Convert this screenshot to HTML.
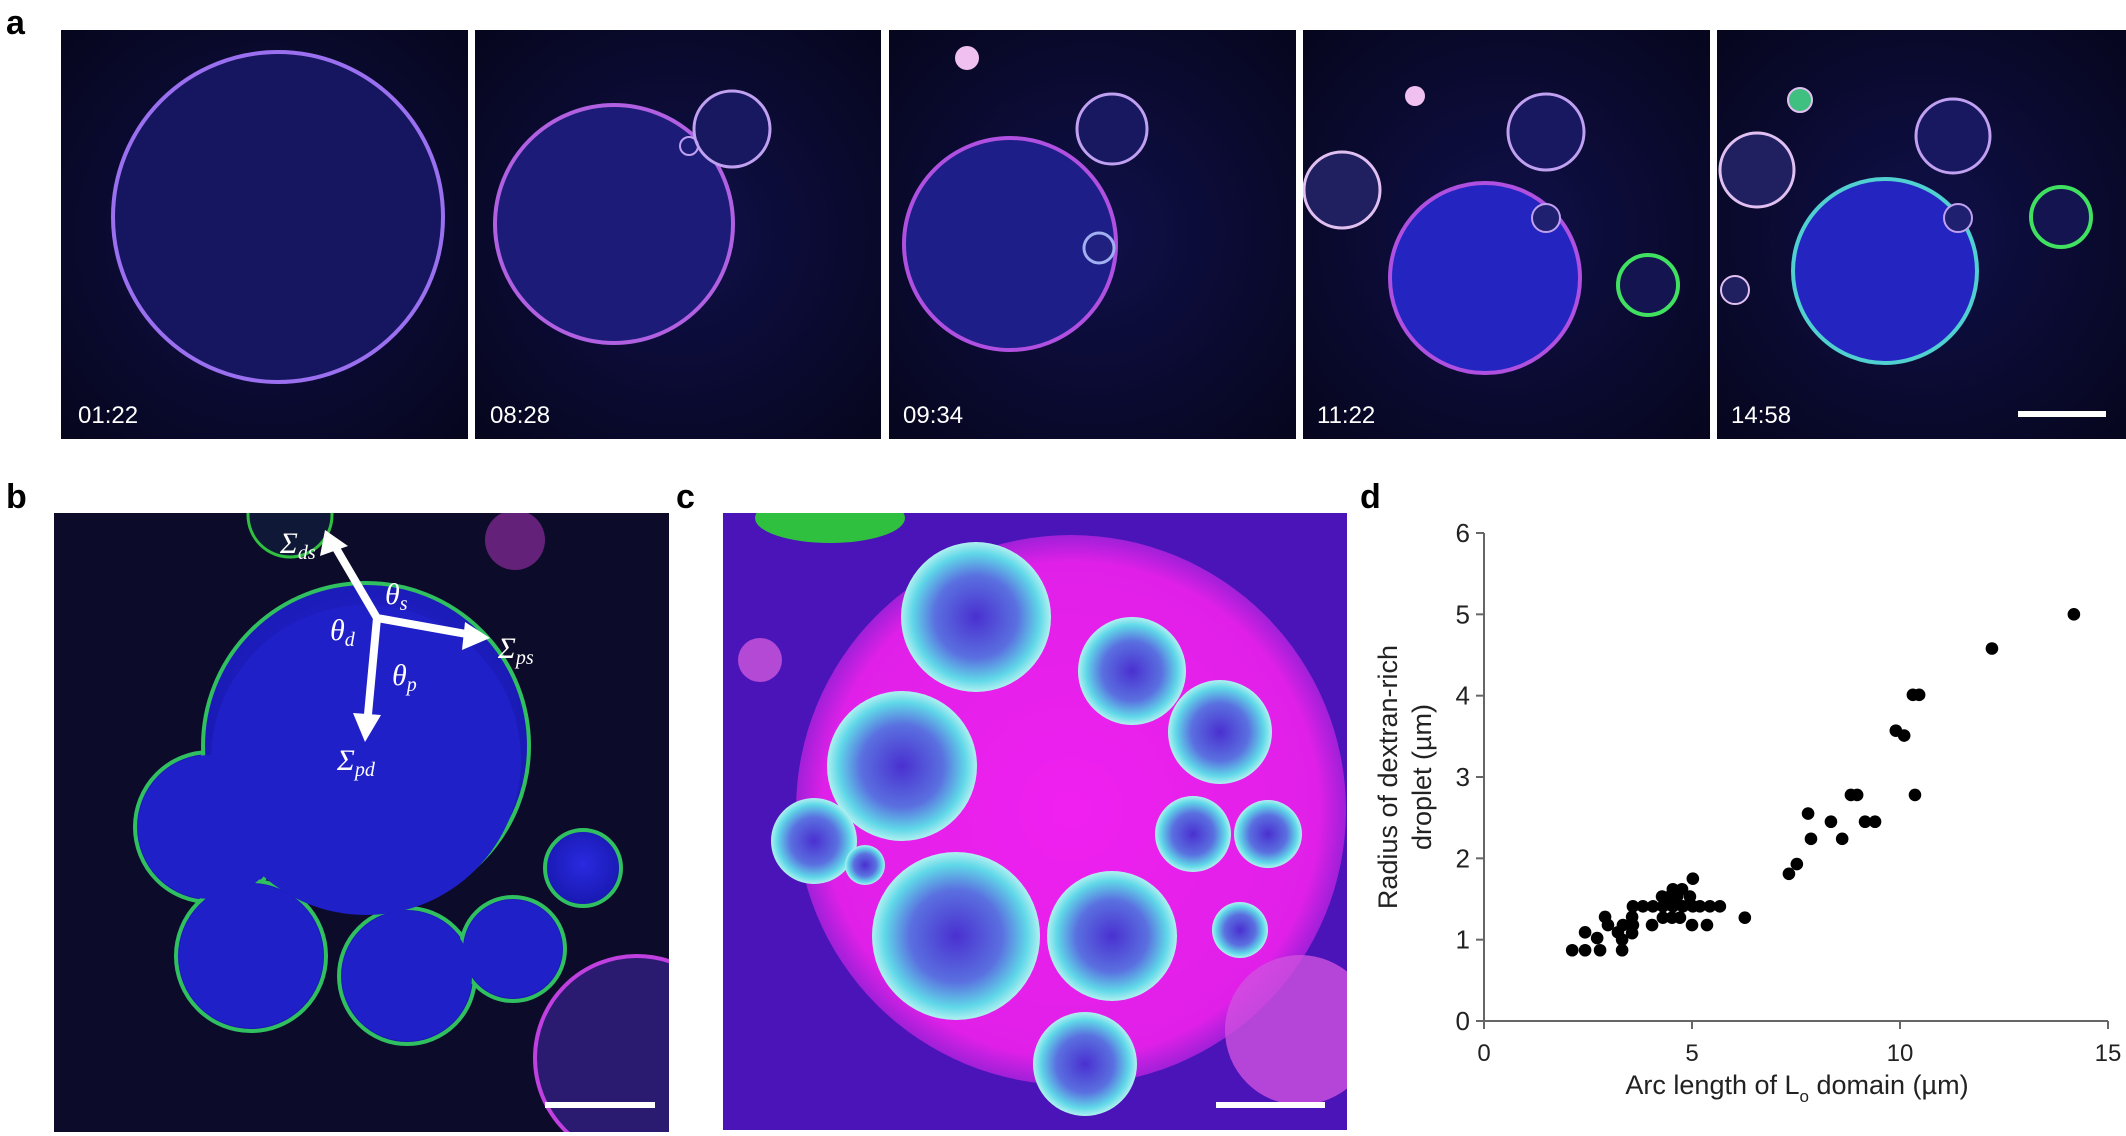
<!DOCTYPE html>
<html><head><meta charset="utf-8"><style>
html,body{margin:0;padding:0;background:#fff;}
body{width:2126px;height:1136px;position:relative;overflow:hidden;font-family:"Liberation Sans",sans-serif;}
.lbl{position:absolute;font-weight:bold;font-size:34px;color:#000;}
svg{position:absolute;left:0;top:0;}
</style></head><body>
<div class="lbl" style="left:6px;top:4px">a</div>
<div class="lbl" style="left:6px;top:478px">b</div>
<div class="lbl" style="left:676px;top:478px">c</div>
<div class="lbl" style="left:1360px;top:478px">d</div>
<svg width="2126" height="1136">
<defs>
<radialGradient id="bgA" cx="50%" cy="50%" r="70%"><stop offset="0" stop-color="#10104a"/><stop offset="1" stop-color="#06061e"/></radialGradient>
<radialGradient id="blueFill" cx="50%" cy="45%" r="55%"><stop offset="0" stop-color="#2a2ae0"/><stop offset="1" stop-color="#1818b0"/></radialGradient>
<radialGradient id="cyanSph" cx="50%" cy="50%" r="50%"><stop offset="0" stop-color="#4a30d0"/><stop offset="0.55" stop-color="#5a70e0"/><stop offset="0.85" stop-color="#60d8e8"/><stop offset="1" stop-color="#b0f0f0"/></radialGradient>
<radialGradient id="magBig" cx="50%" cy="50%" r="50%"><stop offset="0" stop-color="#f020f0"/><stop offset="0.9" stop-color="#e020e8"/><stop offset="1" stop-color="#a020d8"/></radialGradient>
<clipPath id="cA1"><rect x="61" y="30" width="407" height="409"/></clipPath>
<clipPath id="cA2"><rect x="475" y="30" width="406" height="409"/></clipPath>
<clipPath id="cA3"><rect x="889" y="30" width="407" height="409"/></clipPath>
<clipPath id="cA4"><rect x="1303" y="30" width="407" height="409"/></clipPath>
<clipPath id="cA5"><rect x="1717" y="30" width="409" height="409"/></clipPath>
<clipPath id="cB"><rect x="54" y="513" width="615" height="619"/></clipPath>
<clipPath id="cC"><rect x="723" y="513" width="624" height="617"/></clipPath>
</defs>
<g clip-path="url(#cA1)">
<rect x="61" y="30" width="407" height="409" fill="url(#bgA)"/>
<circle cx="278" cy="217" r="165" fill="#161660" stroke="#9a70f0" stroke-width="4"/>
</g>
<g clip-path="url(#cA2)">
<rect x="475" y="30" width="406" height="409" fill="url(#bgA)"/>
<circle cx="614" cy="224" r="119" fill="#1c1c78" stroke="#b060e0" stroke-width="4"/>
<circle cx="732" cy="129" r="38" fill="#181860" stroke="#c0a0f0" stroke-width="3"/>
<circle cx="689" cy="146" r="9" fill="none" stroke="#c0a0f0" stroke-width="2"/>
</g>
<g clip-path="url(#cA3)">
<rect x="889" y="30" width="407" height="409" fill="url(#bgA)"/>
<circle cx="1010" cy="244" r="106" fill="#1e1e88" stroke="#b050e0" stroke-width="4"/>
<circle cx="1112" cy="129" r="35" fill="#181860" stroke="#c0a0f0" stroke-width="3"/>
<circle cx="1099" cy="248" r="15" fill="#202080" stroke="#a0b0f0" stroke-width="3"/>
<circle cx="967" cy="58" r="12" fill="#f0c0f0"/>
</g>
<g clip-path="url(#cA4)">
<rect x="1303" y="30" width="407" height="409" fill="url(#bgA)"/>
<circle cx="1485" cy="278" r="95" fill="#2424c0" stroke="#b050e0" stroke-width="4"/>
<circle cx="1342" cy="190" r="38" fill="#202060" stroke="#e0c0f0" stroke-width="3"/>
<circle cx="1546" cy="132" r="38" fill="#181860" stroke="#c0a0f0" stroke-width="3"/>
<circle cx="1648" cy="285" r="30" fill="#141450" stroke="#40e060" stroke-width="4"/>
<circle cx="1546" cy="218" r="14" fill="#202070" stroke="#c0a0f0" stroke-width="2"/>
<circle cx="1415" cy="96" r="10" fill="#f0c0f0"/>
</g>
<g clip-path="url(#cA5)">
<rect x="1717" y="30" width="409" height="409" fill="url(#bgA)"/>
<circle cx="1885" cy="271" r="92" fill="#2424c0" stroke="#50d0d0" stroke-width="4"/>
<circle cx="1757" cy="170" r="37" fill="#202060" stroke="#e0c0f0" stroke-width="3"/>
<circle cx="1953" cy="136" r="37" fill="#181860" stroke="#c0a0f0" stroke-width="3"/>
<circle cx="2061" cy="217" r="30" fill="#141450" stroke="#40e060" stroke-width="4"/>
<circle cx="1958" cy="218" r="14" fill="#202070" stroke="#c0a0f0" stroke-width="2"/>
<circle cx="1735" cy="290" r="14" fill="#202060" stroke="#e0c0f0" stroke-width="2"/>
<circle cx="1800" cy="100" r="12" fill="#40c080" stroke="#e0c0f0" stroke-width="2"/>
<rect x="2018" y="411" width="88" height="6" fill="#fff"/>
</g>
<g font-family="Liberation Sans, sans-serif" font-size="24" fill="#fff">
<text x="78" y="423">01:22</text>
<text x="490" y="423">08:28</text>
<text x="903" y="423">09:34</text>
<text x="1317" y="423">11:22</text>
<text x="1731" y="423">14:58</text>
</g>
<g clip-path="url(#cB)">
<rect x="54" y="513" width="615" height="619" fill="#0c0c2a"/>
<circle cx="637" cy="1058" r="102" fill="#2a1a70" stroke="#c040e0" stroke-width="4"/>
<circle cx="290" cy="515" r="42" fill="#101838" stroke="#30c040" stroke-width="3"/>
<circle cx="515" cy="540" r="30" fill="#a030b0" opacity="0.6"/>
<g fill="url(#blueFill)" stroke="#30c060" stroke-width="4">
<circle cx="210" cy="827" r="75"/>
<circle cx="251" cy="956" r="75"/>
<circle cx="407" cy="976" r="68"/>
<circle cx="513" cy="949" r="52"/>
<circle cx="583" cy="868" r="38"/>
<circle cx="366" cy="746" r="163"/>
</g>
<g fill="#2020c8">
<circle cx="210" cy="827" r="72"/><circle cx="251" cy="956" r="72"/><circle cx="407" cy="976" r="65"/><circle cx="513" cy="949" r="49"/><circle cx="366" cy="760" r="155"/>
</g>
<g stroke="#fff" stroke-width="8" fill="#fff">
<line x1="377" y1="618" x2="333" y2="543"/><polygon points="325,530 348,546 320,556" stroke="none"/>
<line x1="377" y1="618" x2="472" y2="635"/><polygon points="490,638 465,622 462,650" stroke="none"/>
<line x1="377" y1="618" x2="367" y2="725"/><polygon points="365,742 353,713 381,715" stroke="none"/>
</g>
<g fill="#fff" font-family="Liberation Serif, serif" font-style="italic" font-size="30">
<text x="280" y="553">Σ<tspan font-size="20" dy="6">ds</tspan></text>
<text x="385" y="604">θ<tspan font-size="20" dy="6">s</tspan></text>
<text x="330" y="640">θ<tspan font-size="20" dy="6">d</tspan></text>
<text x="498" y="658">Σ<tspan font-size="20" dy="6">ps</tspan></text>
<text x="392" y="685">θ<tspan font-size="20" dy="6">p</tspan></text>
<text x="337" y="770">Σ<tspan font-size="20" dy="6">pd</tspan></text>
</g>
<rect x="545" y="1102" width="110" height="6" fill="#fff"/>
</g>
<g clip-path="url(#cC)">
<rect x="723" y="513" width="624" height="617" fill="#4a14b8"/>
<circle cx="1071" cy="810" r="275" fill="url(#magBig)"/>
<circle cx="1300" cy="1030" r="75" fill="#d050e0" opacity="0.8"/>
<circle cx="760" cy="660" r="22" fill="#e060e0" opacity="0.7"/>
<ellipse cx="830" cy="518" rx="75" ry="25" fill="#30c040"/>
<g fill="url(#cyanSph)">
<circle cx="976" cy="617" r="75"/>
<circle cx="1132" cy="671" r="54"/>
<circle cx="902" cy="766" r="75"/>
<circle cx="1220" cy="732" r="52"/>
<circle cx="956" cy="936" r="84"/>
<circle cx="1112" cy="936" r="65"/>
<circle cx="1193" cy="834" r="38"/>
<circle cx="1268" cy="834" r="34"/>
<circle cx="814" cy="841" r="43"/>
<circle cx="1085" cy="1064" r="52"/>
<circle cx="1240" cy="930" r="28"/>
<circle cx="865" cy="865" r="20"/>
</g>
<rect x="1216" y="1102" width="109" height="6" fill="#fff"/>
</g>
</svg>
<svg id="chart" width="2126" height="1136"></svg>
<script>
const xVals=[14.18,12.21,10.31,10.46,9.90,10.10,10.36,8.82,8.97,7.79,8.34,9.16,9.40,7.86,8.61,7.52,7.33,5.02,4.54,4.76,4.28,4.47,4.64,4.95,3.58,3.82,4.06,4.30,4.54,4.78,5.02,5.19,5.43,5.67,2.91,3.56,4.30,4.52,4.71,6.27,2.98,3.34,3.58,4.04,5.00,5.36,2.43,3.22,3.56,2.72,3.32,2.12,2.43,2.79,3.32];
const yVals=[5.0,4.58,4.01,4.01,3.57,3.51,2.78,2.78,2.78,2.55,2.45,2.45,2.45,2.24,2.24,1.93,1.81,1.75,1.62,1.62,1.53,1.53,1.53,1.53,1.41,1.41,1.41,1.41,1.41,1.41,1.41,1.41,1.41,1.41,1.28,1.28,1.27,1.27,1.27,1.27,1.18,1.18,1.18,1.18,1.18,1.18,1.09,1.09,1.08,1.02,1.0,0.87,0.87,0.87,0.87];
const xTicks=[0,5,10,15];
const yTicks=[0,1,2,3,4,5,6];
const NS='http://www.w3.org/2000/svg';
const svg=document.getElementById('chart');
const X0=1484,X1=2108,Y0=1021,Y1=533;
function sx(v){return X0+(v/15)*(X1-X0);}
function sy(v){return Y0-(v/6)*(Y0-Y1);}
function mk(t,a){const e=document.createElementNS(NS,t);for(const k in a)e.setAttribute(k,a[k]);svg.appendChild(e);return e;}
let ax=mk('line',{x1:X0,y1:Y0,x2:X1,y2:Y0,stroke:'#666','stroke-width':2});


let ay=mk('line',{x1:X0,y1:Y0,x2:X0,y2:Y1,stroke:'#666','stroke-width':2});


xTicks.forEach(v=>{
 const l=mk('line',{x1:sx(v),y1:Y0,x2:sx(v),y2:Y0+8,stroke:'#666','stroke-width':2});
 
 
 const t=mk('text',{x:sx(v),y:Y0+40,'text-anchor':'middle','font-size':24,'font-family':'Liberation Sans, sans-serif',fill:'#222'});
 t.textContent=v;
 
 
});
yTicks.forEach(v=>{
 const l=mk('line',{x1:X0-8,y1:sy(v),x2:X0,y2:sy(v),stroke:'#666','stroke-width':2});
 
 
 const t=mk('text',{x:X0-14,y:sy(v)+9,'text-anchor':'end','font-size':26,'font-family':'Liberation Sans, sans-serif',fill:'#222'});
 t.textContent=v;
 
 
});
xVals.forEach((v,i)=>{
 const c=mk('circle',{cx:sx(v),cy:sy(yVals[i]),r:6.3,fill:'#000'});
 
 
});
const xt=mk('text',{x:1797,y:1094,'text-anchor':'middle','font-size':27,'font-family':'Liberation Sans, sans-serif',fill:'#222'});
xt.innerHTML='Arc length of L<tspan font-size="17" dy="8">o</tspan><tspan dy="-8"> domain (µm)</tspan>';


const yt=mk('text',{transform:'translate(1397,777) rotate(-90)','text-anchor':'middle','font-size':27,'font-family':'Liberation Sans, sans-serif',fill:'#222'});
yt.innerHTML='<tspan x="0" dy="0">Radius of dextran-rich</tspan><tspan x="0" dy="34">droplet (µm)</tspan>';


</script>
</body></html>
